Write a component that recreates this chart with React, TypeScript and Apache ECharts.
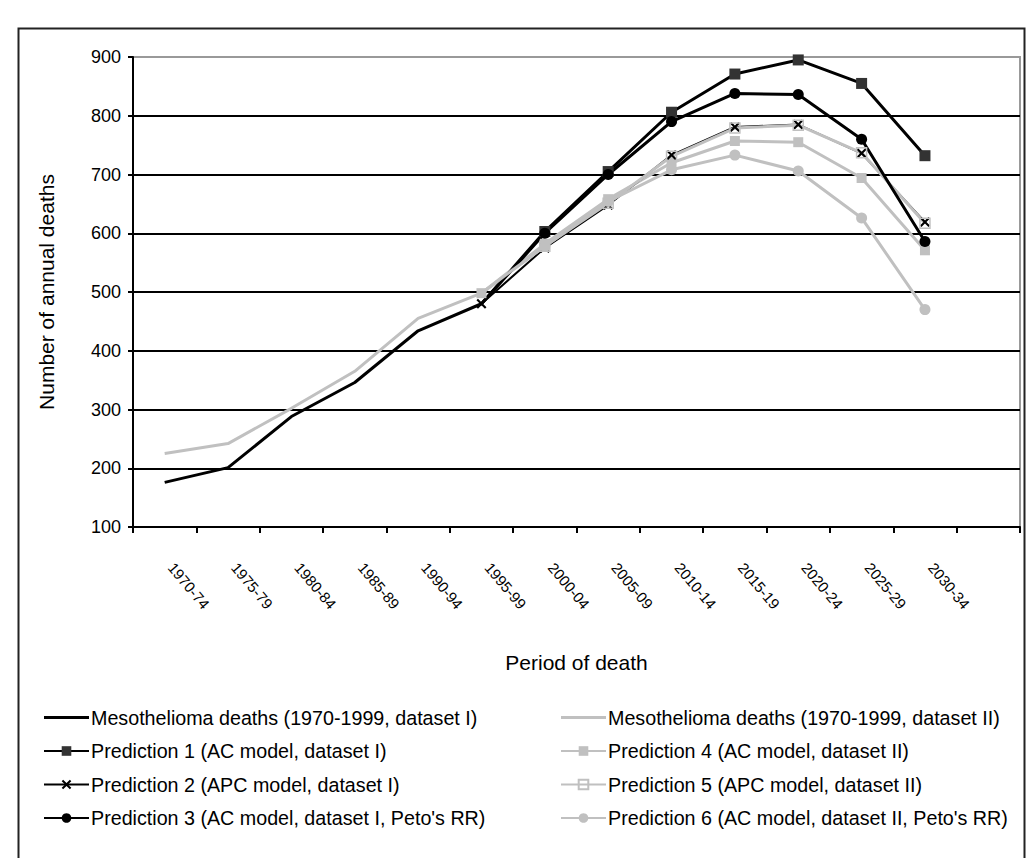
import React, { useEffect, useRef } from "react";
import * as echarts from "echarts";

const categories = ["1970-74","1975-79","1980-84","1985-89","1990-94","1995-99","2000-04","2005-09","2010-14","2015-19","2020-24","2025-29","2030-34",""];
const yTicks = { min: 100, max: 900, interval: 100 };

const observedI = [176, 201, 288, 346, 434, 480];
const observedII = [225, 242, 302, 365, 455, 498];
const pred1 = [null, null, null, null, null, 480, 603, 705, 806, 871, 895, 855, 732];
const pred2 = [null, null, null, null, null, 480, 575, 648, 733, 781, 785, 736, 619];
const pred3 = [null, null, null, null, null, 480, 600, 700, 790, 838, 836, 760, 586];
const pred4 = [null, null, null, null, null, 498, 582, 658, 720, 757, 755, 694, 571];
const pred5 = [null, null, null, null, null, 498, 578, 651, 731, 779, 784, 737, 617];
const pred6 = [null, null, null, null, null, 498, 578, 654, 708, 733, 706, 626, 470];

const names = {
  m1: "Mesothelioma deaths (1970-1999, dataset I)",
  m2: "Mesothelioma deaths (1970-1999, dataset II)",
  p1: "Prediction 1 (AC model, dataset I)",
  p2: "Prediction 2 (APC model, dataset I)",
  p3: "Prediction 3 (AC model, dataset I, Peto's RR)",
  p4: "Prediction 4 (AC model, dataset II)",
  p5: "Prediction 5 (APC model, dataset II)",
  p6: "Prediction 6 (AC model, dataset II, Peto's RR)",
};

const FONT = "Liberation Sans, Arial, sans-serif";
const GRAY = "#c0c0c0";
const XSYM = "path://M0,1.5L1.5,0L5,3.5L8.5,0L10,1.5L6.5,5L10,8.5L8.5,10L5,6.5L1.5,10L0,8.5L3.5,5Z";
const LINE_ICON = "path://M0,0M0,4.5L45,4.5L45,7.5L0,7.5ZM45,12";

function hideFirst(arr: (number | null)[], hide: boolean) {
  let first = true;
  return arr.map((v) => {
    if (v == null) return v;
    if (first) {
      first = false;
      if (hide) return { value: v, symbol: "none" };
    }
    return v;
  });
}

export default function App() {
  const ref = useRef<HTMLDivElement>(null);
  useEffect(() => {
    document.body.style.margin = "0";
    const chart = echarts.init(ref.current!, null, { renderer: "svg" });
    const line = (name: string, data: any[], color: string, symbol: string, size: number, extra: any = {}) => ({
      name,
      type: "line",
      data,
      symbol,
      symbolSize: size,
      showSymbol: symbol !== "none",
      connectNulls: false,
      lineStyle: { color, width: extra.width ?? 3 },
      itemStyle: { color, borderColor: color, borderWidth: 0, ...(extra.itemStyle || {}) },
      emphasis: { disabled: true },
    });
    const seriesOpts = [
      line(names.m1, observedI, "#000", "none", 0),
      line(names.m2, observedII, GRAY, "none", 0),
      line(names.p1, hideFirst(pred1, true), "#000", "rect", 11, { itemStyle: { color: "#333" } }),
      line(names.p4, hideFirst(pred4, false), GRAY, "rect", 10),
      line(names.p2, hideFirst(pred2, false), "#000", XSYM, 10, { width: 2 }),
      line(names.p5, hideFirst(pred5, true), GRAY, "rect", 10, { itemStyle: { color: "rgba(255,255,255,0)", borderColor: GRAY, borderWidth: 1.5 } }),
      line(names.p3, hideFirst(pred3, true), "#000", "circle", 11),
      line(names.p6, hideFirst(pred6, true), GRAY, "circle", 11),
    ];
    const legendBase = {
      orient: "vertical",
      top: 706,
      padding: 0,
      itemWidth: 45,
      itemHeight: 12,
      itemGap: 10.5,
      selectedMode: false,
      textStyle: { fontSize: 19.7, fontFamily: FONT, color: "#000", lineHeight: 23, padding: [0, 0, 0, -3] },
    };
    chart.setOption({
      animation: false,
      backgroundColor: "#fff",
      grid: { left: 133, right: 8, top: 57, bottom: 331, show: true, borderColor: "#999", borderWidth: 2 },
      xAxis: {
        type: "category",
        data: categories,
        boundaryGap: true,
        axisLine: { lineStyle: { color: "#000", width: 2 } },
        axisTick: { show: true, length: 6, interval: 0, lineStyle: { color: "#000", width: 2 } },
        axisLabel: { interval: 0, rotate: -50, margin: 30, padding: [0, 0, 0, 10], fontSize: 15, fontFamily: FONT, color: "#000" },
        name: "Period of death",
        nameLocation: "middle",
        nameGap: 125,
        nameTextStyle: { fontSize: 21, fontFamily: FONT, color: "#000" },
        splitLine: { show: false },
      },
      yAxis: {
        type: "value",
        min: yTicks.min,
        max: yTicks.max,
        interval: yTicks.interval,
        axisLine: { show: true, lineStyle: { color: "#000", width: 2 } },
        axisTick: { show: true, length: 5, lineStyle: { color: "#000", width: 2 } },
        axisLabel: { fontSize: 18, fontFamily: FONT, color: "#000", margin: 12 },
        splitLine: { show: true, lineStyle: { color: ["#000", "#000", "#000", "#000", "#000", "#000", "#000", "#000", "#999"], width: 2 } },
        name: "Number of annual deaths",
        nameLocation: "middle",
        nameGap: 76,
        nameTextStyle: { fontSize: 21, fontFamily: FONT, color: "#000" },
      },
      legend: [
        { ...legendBase, left: 43, data: [{ name: names.m1, icon: LINE_ICON }, names.p1, names.p2, names.p3] },
        { ...legendBase, left: 560, data: [{ name: names.m2, icon: LINE_ICON }, names.p4, names.p5, names.p6] },
      ],
      graphic: [
        { type: "rect", left: 16, top: 26, shape: { x: 0, y: 0, width: 1006, height: 900 }, style: { fill: "none", stroke: "#222", lineWidth: 2 }, silent: true },
      ],
      series: seriesOpts,
    });
    return () => chart.dispose();
  }, []);
  return <div ref={ref} style={{ width: 1028, height: 858 }} />;
}
